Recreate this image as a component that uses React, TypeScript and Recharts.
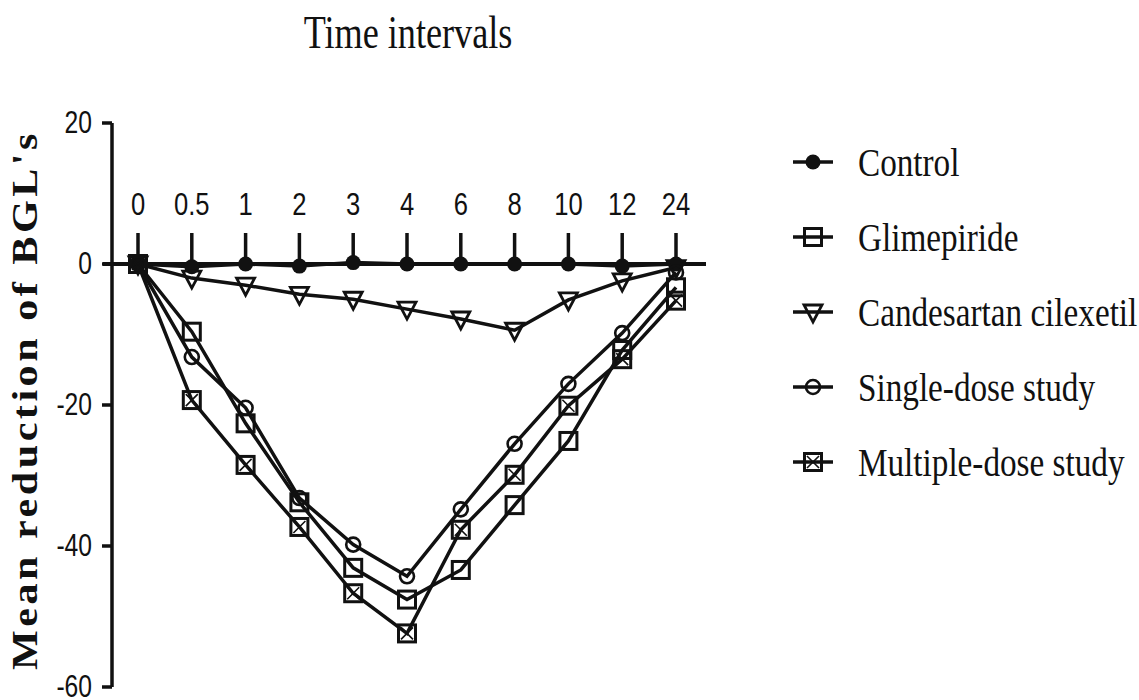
import { LineChart, Line, XAxis, YAxis, ReferenceLine, ReferenceDot } from "recharts";

// Time points (h) and mean reduction of blood glucose per group
const times = ["0", "0.5", "1", "2", "3", "4", "6", "8", "10", "12", "24"];
const control = [0, -0.4, 0, -0.3, 0.2, 0, 0, 0, 0, -0.3, 0];
const glimepiride = [0, -9.6, -22.6, -33.8, -43.1, -47.6, -43.4, -34.2, -25.1, -12.2, -3.3];
const candesartan = [0, -2, -3, -4.3, -5, -6.4, -7.8, -9.4, -5.1, -2.4, -0.5];
const singleDose = [0, -13.2, -20.4, -33.2, -39.8, -44.3, -34.8, -25.5, -17, -9.8, -1.2];
const multipleDose = [0, -19.3, -28.5, -37.3, -46.7, -52.4, -37.7, -29.9, -20.1, -13.5, -5.2];
const yTicks = [-60, -40, -20, 0, 20];

const data = times.map((t, i) => ({
  t,
  control: control[i],
  glimepiride: glimepiride[i],
  candesartan: candesartan[i],
  singleDose: singleDose[i],
  multipleDose: multipleDose[i],
}));

const INK = "#111";
const SERIF = "'Liberation Serif', 'Times New Roman', serif";
const SANS = "'Liberation Sans', Arial, sans-serif";

type Pt = { cx: number; cy: number };

const FilledCircle = ({ cx, cy }: Pt) => <circle cx={cx} cy={cy} r={7.5} fill={INK} />;

const OpenSquare = ({ cx, cy }: Pt) => (
  <rect x={cx - 8.5} y={cy - 8.5} width={17} height={17} fill="none" stroke={INK} strokeWidth={3} />
);

const DownTriangle = ({ cx, cy }: Pt) => (
  <path
    d={`M${cx - 9},${cy - 7} L${cx + 9},${cy - 7} L${cx},${cy + 10} Z`}
    fill="none"
    stroke={INK}
    strokeWidth={2.8}
  />
);

const OpenCircle = ({ cx, cy }: Pt) => (
  <circle cx={cx} cy={cy} r={7} fill="none" stroke={INK} strokeWidth={2.6} />
);

const CrossSquare = ({ cx, cy }: Pt) => (
  <g stroke={INK} fill="none">
    <rect x={cx - 8.5} y={cy - 8.5} width={17} height={17} strokeWidth={3} />
    <path d={`M${cx - 6},${cy - 6} L${cx + 6},${cy + 6} M${cx + 6},${cy - 6} L${cx - 6},${cy + 6}`} strokeWidth={1.6} />
  </g>
);

const series = [
  { key: "control", name: "Control", Marker: FilledCircle },
  { key: "glimepiride", name: "Glimepiride", Marker: OpenSquare },
  { key: "candesartan", name: "Candesartan cilexetil", Marker: DownTriangle },
  { key: "singleDose", name: "Single-dose study", Marker: OpenCircle },
  { key: "multipleDose", name: "Multiple-dose study", Marker: CrossSquare },
];

const YTick = ({ x, y, payload }: any) => (
  <text
    transform={`translate(${x - 8},${y + 10}) scale(0.77,1)`}
    textAnchor="end"
    fontFamily={SANS}
    fontSize={32}
    fill={INK}
  >
    {payload.value}
  </text>
);

const YTitle = ({ viewBox }: any) => {
  const cy = viewBox.y + viewBox.height / 2 - 5;
  return (
    <text
      transform={`translate(${viewBox.x + 37},${cy}) rotate(-90)`}
      textAnchor="middle"
      fontFamily={SERIF}
      fontWeight="bold"
      fontSize={36}
      letterSpacing={3}
      textLength={540}
      lengthAdjust="spacingAndGlyphs"
      fill={INK}
    >
      Mean reduction of BGL's
    </text>
  );
};

// category tick standing on the zero line, label above it
const TimeTick = ({ cx, cy, label }: Pt & { label: string }) => (
  <g>
    <line x1={cx} y1={cy - 31} x2={cx} y2={cy} stroke={INK} strokeWidth={3.5} />
    <text
      transform={`translate(${cx},${cy - 49}) scale(0.8,1)`}
      textAnchor="middle"
      fontFamily={SANS}
      fontSize={32}
      fill={INK}
    >
      {label}
    </text>
  </g>
);

const LegendBlock = () => (
  <g>
    {series.map(({ key, name, Marker }, i) => {
      const cy = 162 + i * 75;
      return (
        <g key={key}>
          <line x1={793} y1={cy} x2={833} y2={cy} stroke={INK} strokeWidth={3.5} />
          <Marker cx={813} cy={cy} />
          <text
            transform={`translate(858,${cy + 14}) scale(0.81,1)`}
            fontFamily={SERIF}
            fontSize={41}
            fill={INK}
          >
            {name}
          </text>
        </g>
      );
    })}
  </g>
);

export default function App() {
  return (
    <div style={{ position: "absolute", left: 0, top: 0, background: "#fff" }}>
      <LineChart
        width={1139}
        height={700}
        data={data}
        margin={{ top: 123, right: 433, bottom: 13, left: 0 }}
      >
        <XAxis dataKey="t" hide padding={{ left: 26, right: 30 }} />
        <YAxis
          width={112}
          domain={[-60, 20]}
          ticks={yTicks}
          interval={0}
          axisLine={{ stroke: INK, strokeWidth: 3.5 }}
          tickLine={{ stroke: INK, strokeWidth: 3.5 }}
          tickSize={10}
          tick={<YTick />}
          label={<YTitle />}
        />
        <ReferenceLine
          y={0}
          ifOverflow="visible"
          shape={(p: any) => (
            <line x1={p.x1 - 9} y1={p.y1} x2={p.x2} y2={p.y2} stroke={INK} strokeWidth={4} />
          )}
        />
        {times.map((t) => (
          <ReferenceDot
            key={t}
            x={t}
            y={0}
            r={0}
            ifOverflow="visible"
            shape={(p: any) => <TimeTick cx={p.cx} cy={p.cy} label={t} />}
          />
        ))}
        {series.map(({ key, name, Marker }) => (
          <Line
            key={key}
            dataKey={key}
            name={name}
            stroke={INK}
            strokeWidth={3.5}
            isAnimationActive={false}
            dot={(p: any) => <Marker key={`${key}-${p.index}`} cx={p.cx} cy={p.cy} />}
            activeDot={false}
          />
        ))}
        <text
          transform="translate(408,48) scale(0.77,1)"
          textAnchor="middle"
          fontFamily={SERIF}
          fontSize={47}
          fill={INK}
        >
          Time intervals
        </text>
        <LegendBlock />
      </LineChart>
    </div>
  );
}
